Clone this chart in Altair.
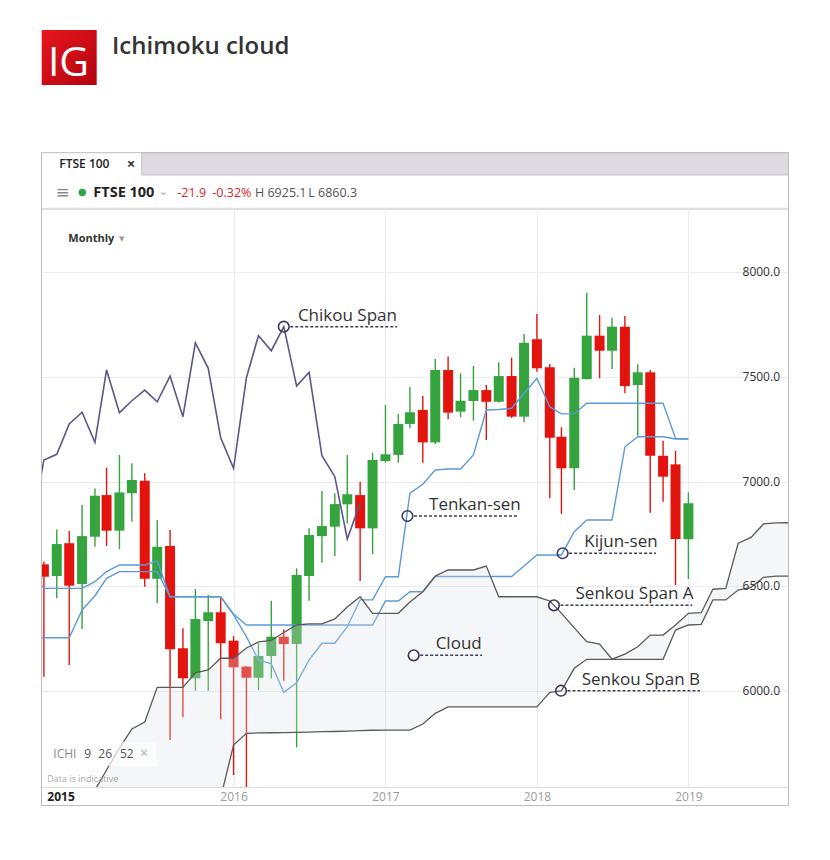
import altair as alt
import pandas as pd

# ---------------- data ----------------
candle_start = "2014-10-01"   # monthly candles, FTSE 100
opens = [6605, 6549, 6706, 6511, 6737, 6936, 6766, 6945, 7005, 6536,
         6693, 6204, 6060, 6334, 6376, 6240, 6116, 6063, 6167, 6259,
         6224, 6549, 6740, 6785, 6892, 6936, 6777, 7099, 7128, 7276,
         7343, 7188, 7534, 7335, 7386, 7438, 7382, 7505, 7311, 7681,
         7547, 7215, 7064, 7490, 7698, 7626, 7741, 7462, 7523, 7124,
         7083, 6725]
highs = [6618, 6772, 6764, 6889, 6968, 7067, 7128, 7088, 7040, 6817,
         6769, 6299, 6487, 6458, 6443, 6262, 6119, 6228, 6431, 6294,
         6586, 6777, 6956, 6945, 7128, 7000, 7139, 7367, 7324, 7451,
         7410, 7587, 7598, 7518, 7553, 7462, 7571, 7593, 7706, 7802,
         7563, 7260, 7545, 7903, 7797, 7784, 7792, 7561, 7534, 7196,
         7147, 6949]
lows = [6068, 6443, 6124, 6296, 6689, 6693, 6677, 6809, 6498, 6419,
        5765, 5874, 6001, 6001, 5864, 5598, 5500, 6004, 6060, 6049,
        5730, 6431, 6613, 6645, 6800, 6525, 6654, 7091, 7091, 7255,
        7091, 7180, 7298, 7308, 7292, 7199, 7378, 7305, 7284, 7526,
        6921, 6846, 6960, 7490, 7494, 7539, 7423, 7220, 6852, 6904,
        6506, 6535]
closes = [6546, 6702, 6503, 6740, 6933, 6766, 6949, 7008, 6536, 6689,
          6199, 6060, 6344, 6376, 6228, 6113, 6063, 6167, 6259, 6224,
          6554, 6745, 6788, 6893, 6940, 6777, 7104, 7131, 7276, 7332,
          7188, 7534, 7330, 7387, 7438, 7382, 7505, 7311, 7664, 7542,
          7210, 7064, 7497, 7698, 7626, 7741, 7457, 7523, 7124, 7024,
          6726, 6897]

line_start = "2014-09-01"
tenkan = [6573, 6490, 6490, 6490, 6490, 6522, 6570, 6602, 6602, 6602,
          6622, 6450, 6450, 6450, 6450, 6450, 6363, 6259, 6148, 6129,
          5993, 6039, 6148, 6228, 6228, 6307, 6435, 6435, 6546, 6546,
          6945, 6988, 7056, 7061, 7061, 7128, 7343, 7345, 7351, 7423,
          7494, 7358, 7324, 7324, 7375, 7375, 7375, 7375, 7375, 7375,
          7375, 7207, 7204]
kijun = [6254, 6254, 6254, 6254, 6387, 6455, 6538, 6570, 6570, 6570,
         6570, 6450, 6450, 6450, 6450, 6450, 6367, 6315, 6315, 6315,
         6315, 6315, 6315, 6315, 6315, 6315, 6315, 6315, 6430, 6430,
         6474, 6474, 6547, 6547, 6547, 6547, 6547, 6547, 6547, 6597,
         6650, 6650, 6650, 6761, 6817, 6817, 6817, 7167, 7215, 7215,
         7215, 7204, 7204]

senkou_a_start = "2015-02-01"
senkou_a = [5526, 5622, 5727, 5818, 5851, 6017, 6017, 6017, 6086, 6100,
            6156, 6156, 6205, 6234, 6241, 6279, 6315, 6320, 6320, 6344,
            6401, 6450, 6371, 6371, 6371, 6425, 6474, 6549, 6578, 6578,
            6578, 6597, 6450, 6450, 6450, 6450, 6430, 6372, 6301, 6235,
            6224, 6152, 6176, 6211, 6267, 6267, 6315, 6371, 6374, 6486,
            6490, 6706, 6734, 6798, 6803, 6804]
senkou_b_start = "2015-12-01"
senkou_b = [5490, 5741, 5797, 5799, 5800, 5801, 5802, 5803, 5805, 5806,
            5808, 5810, 5812, 5813, 5813, 5813, 5842, 5893, 5924, 5924,
            5924, 5924, 5924, 5924, 5924, 5924, 5993, 6000, 6108, 6151,
            6151, 6151, 6151, 6151, 6151, 6151, 6291, 6315, 6318, 6435,
            6435, 6482, 6495, 6543, 6549, 6549]

chikou_start = "2014-09-01"   # close plotted 26 periods back
CHIKOU_SHIFT = 26

y_ticks = [6000, 6500, 7000, 7500, 8000]
y_tick_labels = ["6000.0", "6500.0", "7000.0", "7500.0", "8000.0"]
x_years = [2016, 2017, 2018, 2019]

ann_labels = ["Chikou Span", "Tenkan-sen", "Kijun-sen", "Senkou Span A", "Cloud", "Senkou Span B"]
ann_dates = ["2016-05-01", "2017-02-23", "2018-03-04", "2018-02-11", "2017-03-10", "2018-02-28"]
ann_values = [7741, 6836, 6658, 6409, 6170, 6001]
ann_end_dates = ["2017-01-29", "2017-11-15", "2018-10-15", "2019-01-10", "2017-08-22", "2019-01-29"]
ann_text_dates = ["2016-06-04", "2017-04-16", "2018-04-25", "2018-04-04", "2017-05-02", "2018-04-19"]

# ---------------- styling ----------------
FONT = "Open Sans"
GREEN = "#35a33e"
RED = "#e3140e"
BLUE = "#5b9bd8"
CHIKOU = "#5a5888"
SENKOU = "#5a5a5a"
CLOUD = "#dfe2e6"
NAVY = "#3c3a5e"
GRID = "#ebeaf2"
W, H = 747, 578
Y_MIN, Y_MAX = 5540.7, 8303.5


def months(start, n):
    return pd.date_range(start, periods=n, freq="MS").strftime("%Y-%m-%d").tolist()


candles = pd.DataFrame({"date": months(candle_start, len(opens)), "open": opens,
                        "high": highs, "low": lows, "close": closes})
tk = pd.DataFrame({"date": months(line_start, len(tenkan)), "tenkan": tenkan, "kijun": kijun})
sa = pd.DataFrame({"date": months(senkou_a_start, len(senkou_a)), "value": senkou_a})
sb = pd.DataFrame({"date": months(senkou_b_start, len(senkou_b)), "value": senkou_b})
n_before_b = len(senkou_a) - len(senkou_b)
cloud = pd.DataFrame({"date": sa["date"], "upper": senkou_a,
                      "lower": [Y_MIN] * n_before_b + senkou_b})
chikou_vals = closes[CHIKOU_SHIFT - 1:]
chikou = pd.DataFrame({"date": months(chikou_start, len(chikou_vals)), "value": chikou_vals})
ann = pd.DataFrame({"label": ann_labels, "d": ann_dates, "v": ann_values,
                    "e": ann_end_dates, "t": ann_text_dates})
ylab = pd.DataFrame({"v": y_ticks, "lbl": y_tick_labels})

xscale = alt.Scale(type="utc", nice=False, padding=0,
                   domain=[alt.DateTime(year=2014, month=9, date=24, utc=True),
                           alt.DateTime(year=2019, month=8, date=29, utc=True)])
xaxis = alt.Axis(values=[alt.DateTime(year=y, month=1, date=1, utc=True) for y in x_years],
                 format="%Y", grid=True, gridColor=GRID, gridWidth=1, ticks=False, domain=False,
                 labelColor="#9b9b9b", labelFont=FONT, labelFontSize=12, labelPadding=4,
                 labelFlush=False, title=None)
yscale = alt.Scale(domain=[Y_MIN, Y_MAX], nice=False, zero=False, padding=0)
yaxis = alt.Axis(values=y_ticks, grid=True, gridColor=GRID, gridWidth=1, labels=False,
                 ticks=False, domain=False, title=None)


def X(f):
    return alt.X(f"{f}:T", scale=xscale, axis=xaxis)


def Y(f):
    return alt.Y(f"{f}:Q", scale=yscale, axis=yaxis)


up = "datum.close >= datum.open"
wicks = alt.Chart(candles).mark_rule(strokeWidth=1.4, clip=True).encode(
    x=X("date"), y=Y("low"), y2="high:Q",
    color=alt.condition(up, alt.value(GREEN), alt.value(RED)))
bodies = alt.Chart(candles).mark_bar(size=10, clip=True).encode(
    x=X("date"), y=Y("open"), y2="close:Q",
    color=alt.condition(up, alt.value(GREEN), alt.value(RED)))

tenkan_line = alt.Chart(tk).mark_line(color=BLUE, strokeWidth=1.4, clip=True).encode(x=X("date"), y=Y("tenkan"))
kijun_line = alt.Chart(tk).mark_line(color=BLUE, strokeWidth=1.4, clip=True).encode(x=X("date"), y=Y("kijun"))
cloud_area = alt.Chart(cloud).mark_area(color=CLOUD, opacity=0.3, clip=True).encode(
    x=X("date"), y=Y("upper"), y2="lower:Q")
sa_line = alt.Chart(sa).mark_line(color=SENKOU, strokeWidth=1.3, clip=True).encode(x=X("date"), y=Y("value"))
sb_line = alt.Chart(sb).mark_line(color=SENKOU, strokeWidth=1.3, clip=True).encode(x=X("date"), y=Y("value"))
chikou_line = alt.Chart(chikou).mark_line(color=CHIKOU, strokeWidth=1.6, clip=True).encode(x=X("date"), y=Y("value"))

ylabels = alt.Chart(ylab).mark_text(align="right", baseline="middle", font=FONT, fontSize=12,
                                    color="#333333").encode(
    x=alt.value(W - 8), y=Y("v"), text="lbl:N")

ann_circles = alt.Chart(ann).mark_point(shape="circle", size=113, strokeWidth=1.6, color=NAVY,
                                        filled=False, opacity=1).encode(x=X("d"), y=Y("v"))
ann_dash = alt.Chart(ann).mark_rule(strokeDash=[3, 2], strokeWidth=1.5, color=NAVY, xOffset=6.5).encode(
    x=X("d"), x2="e:T", y=Y("v"))
ann_text = alt.Chart(ann).mark_text(align="left", baseline="alphabetic", dy=-6, font=FONT, fontSize=17,
                                    color="#333333").encode(x=X("t"), y=Y("v"), text="label:N")

# ---------------- page chrome (pixel positions relative to plot origin) ----------------
one = pd.DataFrame({"k": [0]})


def txt(x, y, s, size=12, color="#333333", weight="normal", align="left", baseline="middle", font=FONT):
    return alt.Chart(one).mark_text(fontSize=size, color=color, fontWeight=weight, align=align,
                                    baseline=baseline, font=font).encode(
        x=alt.value(x), y=alt.value(y), text=alt.value(s))


def box(x, x2, y, y2, **kw):
    return alt.Chart(one).mark_rect(**kw).encode(
        x=alt.value(x), x2=alt.value(x2), y=alt.value(y), y2=alt.value(y2))


def hline(x, x2, y, color="#d6d6d6", width=1):
    return alt.Chart(one).mark_rule(color=color, strokeWidth=width).encode(
        x=alt.value(x), x2=alt.value(x2), y=alt.value(y))


logo_fill = alt.Gradient(gradient="linear", x1=0, y1=0, x2=1, y2=1,
                         stops=[alt.GradientStop(offset=0, color="#e8161e"),
                                alt.GradientStop(offset=1, color="#b3040f")])

chrome = [
    box(0.7, 55.7, -179, -124, fill=logo_fill),
    txt(27.5, -133.5, "IG", size=41, color="white", align="center", baseline="alphabetic"),
    txt(71, -154.7, "Ichimoku cloud", size=24, color="#333333", weight=600, baseline="alphabetic"),
    # frame + tabs
    box(100.7, 747.5, -56.3, -34, fill="#dddbe1", stroke="#c4c4c4", strokeWidth=1),
    box(0.5, 747.5, -56.3, 596.5, fill="transparent", stroke="#bdbdbd", strokeWidth=1),
    txt(18.3, -45.5, "FTSE 100", size=12, color="#222222", weight=600),
    txt(90, -45.5, "×", size=15, color="#333333", weight="bold", align="center"),
    hline(0.5, 747.5, -0.7, color="#d9d9d9"),
    txt(21.5, -16.5, "≡", size=17, color="#8a8a8a", align="center", font="DejaVu Sans"),
    alt.Chart(one).mark_circle(size=55, color="#2aa745", opacity=1).encode(
        x=alt.value(41.3), y=alt.value(-16.5)),
    txt(52.3, -16.5, "FTSE 100", size=14.5, color="#222222", weight="bold"),
    txt(122.3, -17.5, "⌄", size=11, color="#aaaaaa", align="center", font="DejaVu Sans"),
    txt(136.3, -16.5, "-21.9", size=12.5, color="#e02626"),
    txt(171.3, -16.5, "-0.32%", size=12.5, color="#e02626"),
    txt(214, -16.5, "H 6925.1", size=12.5, color="#555555"),
    txt(267.3, -16.5, "L 6860.3", size=12.5, color="#555555"),
    txt(27.3, 30.3, "Monthly", size=11, color="#333333", weight="bold"),
    txt(80.7, 30.3, "▼", size=7, color="#9a9a9a", align="center", font="DejaVu Sans"),
    # indicator label box
    box(5.7, 115.7, 532.7, 557, fill="white", opacity=0.7),
    txt(12.3, 545, "ICHI", size=12, color="#8a8a8a"),
    txt(43.3, 545, "9", size=12, color="#555555"),
    txt(57.3, 545, "26", size=12, color="#555555"),
    txt(79, 545, "52", size=12, color="#555555"),
    txt(103, 545, "×", size=14, color="#b0b0b0", align="center"),
    txt(6.3, 570, "Data is indicative", size=9, color="#aaaaaa"),
    txt(6.3, 587.7, "2015", size=12, color="#222222", weight="bold"),
]

chart = alt.layer(
    wicks, bodies, tenkan_line, kijun_line, cloud_area, sa_line, sb_line, chikou_line,
    ylabels, ann_circles, ann_dash, ann_text, *chrome
).properties(
    width=W, height=H,
    padding={"left": 33, "top": 201, "right": 34, "bottom": 65},
    autosize=alt.AutoSizeParams(type="none"),
).configure_view(stroke="transparent").configure(background="white")

chart.save("out.html", embed_options={"renderer": "svg", "actions": False})
